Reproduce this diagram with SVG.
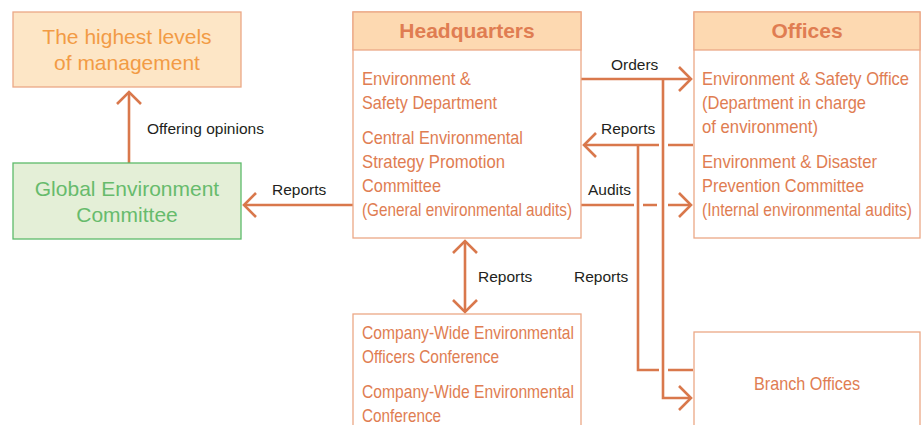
<svg xmlns="http://www.w3.org/2000/svg" width="921" height="425" viewBox="0 0 921 425">
<style>
.bx{fill:#fff;stroke:#eca886;stroke-width:1.3}
.hd{fill:#fdd9b1;stroke:#eca886;stroke-width:1.3}
.ln{fill:none;stroke:#d9784c;stroke-width:2.6}
.t{font-family:"Liberation Sans",Arial,sans-serif;font-size:18px;fill:#e07d52}
.h{font-family:"Liberation Sans",Arial,sans-serif;font-size:21px;font-weight:bold;fill:#e07d52;text-anchor:middle}
.lb{font-family:"Liberation Sans",Arial,sans-serif;font-size:15.5px;fill:#231f20}
</style>
<defs>
<marker id="ah" markerUnits="userSpaceOnUse" viewBox="-16 -16 20 32" refX="0" refY="0" markerWidth="20" markerHeight="32" orient="auto-start-reverse">
<path d="M-12,-12 L0,0 L-12,12" fill="none" stroke="#d9784c" stroke-width="2.6"/>
</marker>
</defs>
<rect width="921" height="425" fill="#fff"/>
<g id="connectors">
<path class="ln" d="M129,163 V92" marker-end="url(#ah)"/>
<path class="ln" d="M353,205 H244" marker-end="url(#ah)"/>
<path class="ln" d="M580,79 H691" marker-end="url(#ah)"/>
<path class="ln" d="M693,145 H668 M659,145 H584" marker-end="url(#ah)"/>
<path class="ln" d="M580,205 H634 M643,205 H657 M668,205 H691" marker-end="url(#ah)"/>
<path class="ln" d="M663,79 V398 H691" marker-end="url(#ah)"/>
<path class="ln" d="M638,145 V370 H659 M668,370 H693"/>
<path class="ln" d="M465,241 V312" marker-start="url(#ah)" marker-end="url(#ah)"/>
<text class="lb" x="147" y="134">Offering opinions</text>
<text class="lb" x="272" y="195">Reports</text>
<text class="lb" x="611" y="70">Orders</text>
<text class="lb" x="601" y="134">Reports</text>
<text class="lb" x="588" y="195">Audits</text>
<text class="lb" x="478" y="282">Reports</text>
<text class="lb" x="574" y="282">Reports</text>
</g>
<g id="top-management">
<rect x="13" y="12" width="228" height="75" fill="#fde6c6" stroke="#eca886" stroke-width="1.3"/>
<text x="127" y="44" font-family="Liberation Sans, Arial, sans-serif" font-size="21" fill="#f29b45" text-anchor="middle">The highest levels</text>
<text x="127" y="70" font-family="Liberation Sans, Arial, sans-serif" font-size="21" fill="#f29b45" text-anchor="middle">of management</text>
</g>
<g id="global-env-committee">
<rect x="13" y="163" width="228" height="76" fill="#e4efd7" stroke="#5dbb6a" stroke-width="1.3"/>
<text x="127" y="196" font-family="Liberation Sans, Arial, sans-serif" font-size="21" fill="#67bb6c" text-anchor="middle">Global Environment</text>
<text x="127" y="222" font-family="Liberation Sans, Arial, sans-serif" font-size="21" fill="#67bb6c" text-anchor="middle">Committee</text>
</g>
<g id="headquarters">
<rect class="bx" x="353" y="12" width="228" height="226"/>
<rect class="hd" x="353" y="12" width="228" height="38"/>
<text class="h" x="467" y="38">Headquarters</text>
<g transform="translate(362,0) scale(0.86,1)">
<text class="t" x="0" y="85" textLength="126.7" lengthAdjust="spacingAndGlyphs">Environment &amp;</text>
<text class="t" x="0" y="109" textLength="157" lengthAdjust="spacingAndGlyphs">Safety Department</text>
<text class="t" x="0" y="144" textLength="187.2" lengthAdjust="spacingAndGlyphs">Central Environmental</text>
<text class="t" x="0" y="168" textLength="166.3" lengthAdjust="spacingAndGlyphs">Strategy Promotion</text>
<text class="t" x="0" y="192" textLength="91.9" lengthAdjust="spacingAndGlyphs">Committee</text>
<text class="t" x="0" y="216" textLength="244.2" lengthAdjust="spacingAndGlyphs">(General environmental audits)</text>
</g>
</g>
<g id="offices">
<rect class="bx" x="694" y="12" width="226" height="226"/>
<rect class="hd" x="694" y="12" width="226" height="38"/>
<text class="h" x="807" y="38">Offices</text>
<g transform="translate(702,0) scale(0.86,1)">
<text class="t" x="0" y="85" textLength="240.7" lengthAdjust="spacingAndGlyphs">Environment &amp; Safety Office</text>
<text class="t" x="0" y="109" textLength="190.7" lengthAdjust="spacingAndGlyphs">(Department in charge</text>
<text class="t" x="0" y="133" textLength="134.9" lengthAdjust="spacingAndGlyphs">of environment)</text>
<text class="t" x="0" y="168" textLength="203.5" lengthAdjust="spacingAndGlyphs">Environment &amp; Disaster</text>
<text class="t" x="0" y="192" textLength="188.4" lengthAdjust="spacingAndGlyphs">Prevention Committee</text>
<text class="t" x="0" y="216" textLength="244.2" lengthAdjust="spacingAndGlyphs">(Internal environmental audits)</text>
</g>
</g>
<g id="conferences">
<rect class="bx" x="353" y="314" width="228" height="130"/>
<g transform="translate(362,0) scale(0.86,1)">
<text class="t" x="0" y="339" textLength="246.5" lengthAdjust="spacingAndGlyphs">Company-Wide Environmental</text>
<text class="t" x="0" y="363" textLength="159.3" lengthAdjust="spacingAndGlyphs">Officers Conference</text>
<text class="t" x="0" y="398" textLength="246.5" lengthAdjust="spacingAndGlyphs">Company-Wide Environmental</text>
<text class="t" x="0" y="422" textLength="91.9" lengthAdjust="spacingAndGlyphs">Conference</text>
</g>
</g>
<g id="branch-offices">
<rect class="bx" x="694" y="332" width="226" height="110"/>
<g transform="translate(754,0) scale(0.86,1)">
<text class="t" x="0" y="390" textLength="123.3" lengthAdjust="spacingAndGlyphs">Branch Offices</text>
</g>
</g>
</svg>
